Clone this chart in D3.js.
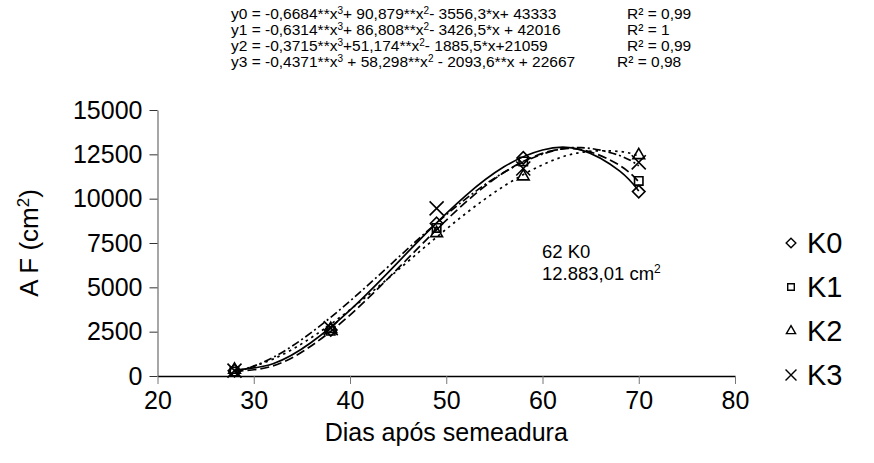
<!doctype html>
<html>
<head>
<meta charset="utf-8">
<title>AF</title>
<script src="https://cdn.jsdelivr.net/npm/d3@7"></script>
<style>
  body { margin: 0; background: #fff; }
  text { font-family: "Liberation Sans", Arial, sans-serif; fill: #000; }
</style>
</head>
<body>
<svg width="874" height="463"></svg>
<script>
// observed days
var days = [28, 38, 49, 58, 70];
var series = ["K0", "K1", "K2", "K3"];
var k0 = [300, 2600, 8600, 12300, 10400];
var k1 = [250, 2550, 8350, 12100, 11000];
var k2 = [350, 2650, 8050, 11250, 12450];
var k3 = [300, 2700, 9450, 11700, 12050];

// fitted curves as they appear in the chart (sampled along the trend lines)
var trendDays = [28, 32, 36, 40, 44, 48, 52, 56, 60, 64, 68, 70];
var t0 = [333, 689, 1900, 3710, 5860, 8096, 10160, 11795, 12745, 12753, 11563, 10438];
var t1 = [271, 570, 1707, 3439, 5525, 7722, 9787, 11478, 12552, 12768, 11882, 10950];
var t2 = [230, 952, 2170, 3741, 5524, 7375, 9152, 10711, 11911, 12609, 12662, 12402];
var t3 = [157, 1046, 2458, 4225, 6180, 8153, 9978, 11486, 12510, 12882, 12434, 11850];

var xTicks = [20, 30, 40, 50, 60, 70, 80];
var yTicks = [0, 2500, 5000, 7500, 10000, 12500, 15000];

// equation lines: [normal, sup, normal, sup, normal], plus R2 text
var equations = [
  ["y0 = -0,6684**x", "3", "+ 90,879**x", "2", "- 3556,3*x+ 43333"],
  ["y1 = -0,6314**x", "3", "+ 86,808**x", "2", "- 3426,5*x + 42016"],
  ["y2 = -0,3715**x", "3", "+51,174**x", "2", "- 1885,5*x+21059"],
  ["y3 = -0,4371**x", "3", " + 58,298**x", "2", " - 2093,6**x + 22667"]
];
var r2 = ["R² = 0,99", "R² = 1", "R² = 0,99", "R² =  0,98"];

var svg = d3.select("svg");
var x = d3.scaleLinear().domain([20, 80]).range([157.5, 735]);
var y = d3.scaleLinear().domain([0, 15000]).range([376, 110]);

// y axis
var yAxis = svg.append("g").attr("transform", "translate(" + x(20) + ",0)")
  .call(d3.axisLeft(y).tickValues(yTicks).tickFormat(d3.format("d"))
    .tickSize(8).tickPadding(7).tickSizeOuter(0));
yAxis.select(".domain").attr("stroke", "#777").attr("stroke-width", 1.3);
yAxis.selectAll(".tick line").attr("stroke", "#333");
yAxis.selectAll(".tick text").style("font-size", "25px");

// x axis
var xAxis = svg.append("g").attr("transform", "translate(0," + y(0) + ")")
  .call(d3.axisBottom(x).tickValues(xTicks).tickSize(8).tickPadding(7).tickSizeOuter(0));
xAxis.select(".domain").attr("stroke", "#000").attr("stroke-width", 1.3);
xAxis.selectAll(".tick line").attr("stroke", "#777");
xAxis.selectAll(".tick text").style("font-size", "25px");

// axis titles
svg.append("text").attr("x", x(50)).attr("y", 441).attr("text-anchor", "middle")
  .style("font-size", "25px").text("Dias após semeadura");
var yl = svg.append("text").attr("transform", "translate(38,243) rotate(-90)")
  .attr("text-anchor", "middle").style("font-size", "26px");
yl.append("tspan").text("A F (cm");
yl.append("tspan").attr("dy", -9).style("font-size", "17px").text("2");
yl.append("tspan").attr("dy", 9).text(")");

// trend lines
var trends = [t0, t1, t2, t3];
var dashes = [null, "9,4", "2.5,4", "8,3,2,3"];
var line = d3.line()
  .x(function(d) { return x(d[0]); })
  .y(function(d) { return y(d[1]); })
  .curve(d3.curveNatural);
trends.forEach(function(t, i) {
  svg.append("path")
    .attr("d", line(trendDays.map(function(dd, j) { return [dd, t[j]]; })))
    .attr("fill", "none").attr("stroke", "#000").attr("stroke-width", 1.7)
    .attr("stroke-dasharray", dashes[i]);
});

// marker shapes
var symbols = [
  d3.symbol().type(d3.symbolDiamond2).size(100),
  d3.symbol().type(d3.symbolSquare2).size(90),
  d3.symbol().type(d3.symbolTriangle2).size(100),
  d3.symbol().type(d3.symbolX).size(130)
];
var values = [k0, k1, k2, k3];
values.forEach(function(v, i) {
  svg.append("g").selectAll("path").data(v).enter().append("path")
    .attr("transform", function(d, j) { return "translate(" + x(days[j]) + "," + y(d) + ")"; })
    .attr("d", symbols[i]())
    .attr("fill", "none").attr("stroke", "#000").attr("stroke-width", 1.6);
});

// legend
var legSymbols = [
  d3.symbol().type(d3.symbolDiamond2).size(60),
  d3.symbol().type(d3.symbolSquare2).size(55),
  d3.symbol().type(d3.symbolTriangle2).size(60),
  d3.symbol().type(d3.symbolX).size(80)
];
series.forEach(function(s, i) {
  var g = svg.append("g").attr("transform", "translate(0," + (243 + i * 44) + ")");
  g.append("path").attr("transform", "translate(791,0)").attr("d", legSymbols[i]())
    .attr("fill", "none").attr("stroke", "#000").attr("stroke-width", 1.4);
  g.append("text").attr("x", 807).attr("y", 10).style("font-size", "29px").text(s);
});

// equations
equations.forEach(function(eq, i) {
  var by = 19 + i * 16;
  var t = svg.append("text").attr("x", 231).attr("y", by).style("font-size", "15.5px");
  eq.forEach(function(part, k) {
    if (k % 2 === 1) {
      t.append("tspan").attr("dy", -5).style("font-size", "10px").text(part);
    } else {
      t.append("tspan").attr("dy", k === 0 ? 0 : 5).text(part);
    }
  });
  svg.append("text").attr("x", i === 3 ? 617 : 627).attr("y", by)
    .style("font-size", "15.5px").text(r2[i]);
});

// maximum annotation
svg.append("text").attr("x", 542).attr("y", 258).style("font-size", "18.5px").text("62 K0");
var ann = svg.append("text").attr("x", 542).attr("y", 280).style("font-size", "18.5px");
ann.append("tspan").text("12.883,01 cm");
ann.append("tspan").attr("dy", -7).style("font-size", "12px").text("2");
</script>
</body>
</html>
